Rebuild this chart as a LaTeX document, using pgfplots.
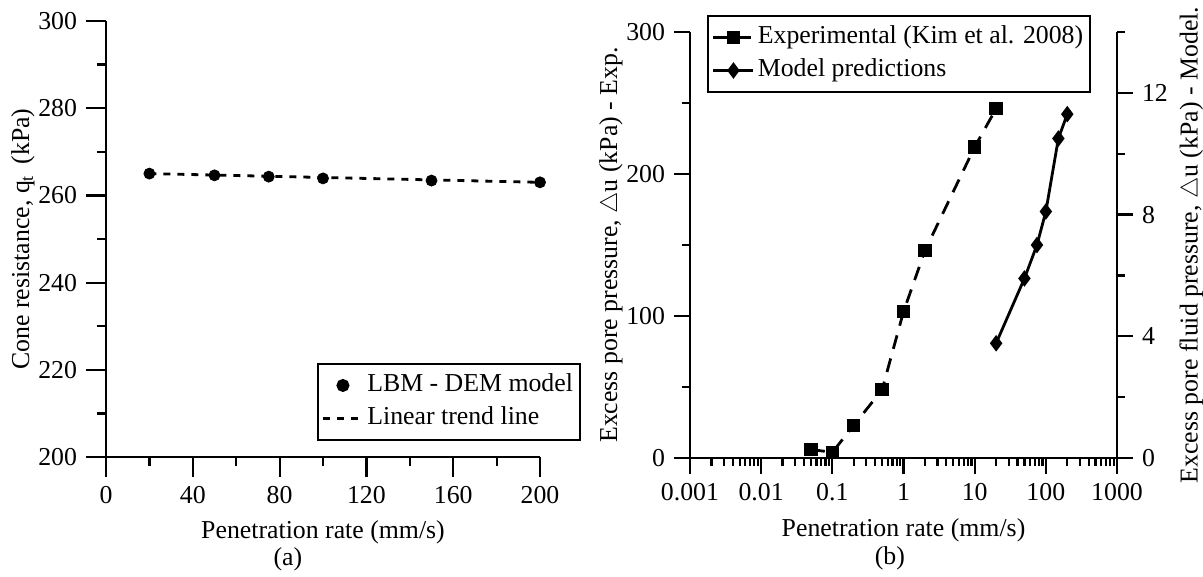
\documentclass[border=0pt]{standalone}
\usepackage{fontspec}
\setmainfont{Liberation Serif}
\usepackage{pgfplots}
\pgfplotsset{compat=1.18}
\begin{document}
\fontsize{12.9}{15}\selectfont
\begin{tikzpicture}
\useasboundingbox (0pt,0pt) rectangle (601.5pt,-288.5pt);
\pgfplotsset{
  mystyle/.style={
    scale only axis, clip=false,
    font=\fontsize{12.9}{15}\selectfont,
    axis line style={line width=1.2pt, black},
    every tick/.style={line width=1.1pt, black},
    tick align=outside,
    /pgf/number format/assume math mode=true,
    /pgf/number format/1000 sep={},
    legend cell align=left,
    legend image code/.code={\draw[mark repeat=2,mark phase=2,##1] plot coordinates {(0pt,0pt) (10pt,0pt) (20pt,0pt)};},
    legend style={draw=black, line width=1pt, inner xsep=2pt, inner ysep=3pt,
      nodes={inner sep=1.5pt, text height=0.72em, text depth=0.25em},
      row sep=1pt, font=\fontsize{12.9}{15}\selectfont},
  }
}
% ---------- (a) ----------
\begin{axis}[mystyle, at={(53pt,-228.5pt)}, anchor=south west,
  width=217pt, height=218pt,
  xmin=0, xmax=200, ymin=200, ymax=300,
  xtick={0,40,...,200}, minor xtick={20,60,...,180},
  ytick={200,220,...,300}, minor ytick={210,230,...,290},
  major tick length=10pt, minor tick length=4.5pt,
  axis x line*=bottom, axis y line*=left,
  xlabel={Penetration rate (mm/s)},
  ylabel={Cone resistance, q\textsubscript{t}\, (kPa)},
  ylabel shift=-7pt,
  legend style={at={(rel axis cs:1.0945,0.0367)}, anchor=south east},
]
\addplot[only marks, mark=*, mark size=2.75pt] coordinates {
  (20,265.0) (50,264.6) (75,264.3) (100,263.9) (150,263.4) (200,263.0)};
\addlegendentry{LBM - DEM model}
\addplot[line width=1.4pt, dash pattern=on 3.5pt off 3.5pt] coordinates {
  (20,265.0) (200,263.0)};
\addlegendentry{Linear trend line}
\node at (rel axis cs:0.419,0) [yshift=-51pt] {(a)};
\end{axis}
% ---------- (b) left axis ----------
\begin{axis}[mystyle, at={(345pt,-229pt)}, anchor=south west,
  width=213.5pt, height=213pt,
  xmode=log, xmin=1e-3, xmax=1e3, ymin=0, ymax=300,
  xtick={0.001,0.01,0.1,1,10,100,1000},
  xticklabels={0.001,0.01,0.1,1,10,100,1000},
  minor xtick={0.002,0.003,0.004,0.005,0.006,0.007,0.008,0.009,
    0.02,0.03,0.04,0.05,0.06,0.07,0.08,0.09,
    0.2,0.3,0.4,0.5,0.6,0.7,0.8,0.9,
    2,3,4,5,6,7,8,9,20,30,40,50,60,70,80,90,200,300,400,500,600,700,800,900},
  ytick={0,100,200,300}, minor ytick={50,150,250},
  major tick length=8pt, minor tick length=4pt,
  axis x line*=bottom, axis y line*=left,
  xlabel={Penetration rate (mm/s)},
  ylabel={Excess pore pressure, $\triangle$u (kPa) - Exp.},
  ylabel shift=-7pt,
  legend style={at={(rel axis cs:0.04,1.04)}, anchor=north west},
]
\addplot[line width=1.4pt, dash pattern=on 7pt off 5pt, mark=square*, mark size=2.6pt, mark options={solid}] coordinates {
  (0.05,6) (0.1,4) (0.2,23) (0.5,48) (1,103) (2,146) (10,219) (20,246)};
\addlegendentry{Experimental (Kim et al. 2008)}
\addlegendimage{line width=1.4pt, solid, mark=diamond*, mark size=3pt}
\addlegendentry{Model predictions}
\node at (rel axis cs:0.468,0) [yshift=-50pt] {(b)};
\end{axis}
% ---------- (b) right axis ----------
\begin{axis}[mystyle, at={(345pt,-229pt)}, anchor=south west,
  width=213.5pt, height=213pt,
  xmode=log, xmin=1e-3, xmax=1e3, ymin=0, ymax=14,
  axis y line*=right, axis x line=none,
  ytick={0,4,8,12}, minor ytick={2,6,10,14},
  major tick length=8pt, minor tick length=4pt,
  ylabel={Excess pore fluid pressure, $\triangle$u (kPa) - Model.},
  ylabel shift=-3pt,
]
\addplot[line width=1.4pt, mark=diamond*, mark size=3pt] coordinates {
  (20,3.77) (50,5.9) (75,7.0) (100,8.1) (150,10.5) (200,11.3)};
\end{axis}
\end{tikzpicture}
\end{document}
